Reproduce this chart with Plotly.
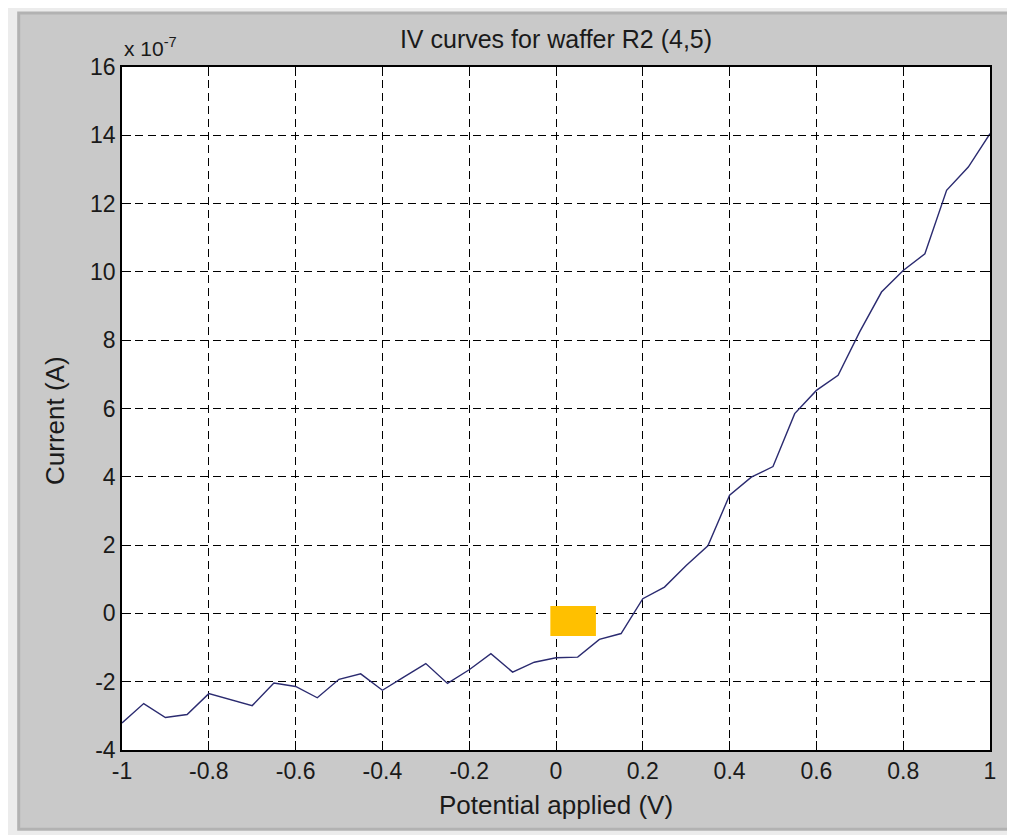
import plotly.graph_objects as go

# --- Data (current in units of 1e-7 A) ---
potential = [-1.00, -0.95, -0.90, -0.85, -0.80, -0.75, -0.70, -0.65, -0.60, -0.55,
             -0.50, -0.45, -0.40, -0.35, -0.30, -0.25, -0.20, -0.15, -0.10, -0.05,
             0.00, 0.05, 0.10, 0.15, 0.20, 0.25, 0.30, 0.35, 0.40, 0.45,
             0.50, 0.55, 0.60, 0.65, 0.70, 0.75, 0.80, 0.85, 0.90, 0.95, 1.00]
current = [-3.21, -2.64, -3.05, -2.96, -2.35, -2.52, -2.70, -2.04, -2.14, -2.47,
           -1.93, -1.77, -2.25, -1.86, -1.47, -2.05, -1.65, -1.18, -1.72, -1.43,
           -1.30, -1.28, -0.76, -0.59, 0.43, 0.77, 1.40, 1.98, 3.46, 3.99,
           4.30, 5.85, 6.53, 6.97, 8.25, 9.41, 10.04, 10.53, 12.39, 13.07, 14.05]

x_ticks = [-1, -0.8, -0.6, -0.4, -0.2, 0, 0.2, 0.4, 0.6, 0.8, 1]
x_labels = ["-1", "-0.8", "-0.6", "-0.4", "-0.2", "0", "0.2", "0.4", "0.6", "0.8", "1"]
y_ticks = [-4, -2, 0, 2, 4, 6, 8, 10, 12, 14, 16]
y_labels = ["-4", "-2", "0", "2", "4", "6", "8", "10", "12", "14", "16"]

font_family = "Liberation Sans, Arial, sans-serif"
text_color = "#1a1a1a"

fig = go.Figure()

# --- IV curve ---
fig.add_trace(go.Scatter(
    x=potential,
    y=current,
    mode="lines",
    line=dict(color="#2b2b70", width=1.4),
    showlegend=False,
))

# --- Window-like gray panel behind the axes ---
fig.add_shape(type="rect", xref="paper", yref="paper",
              x0=-0.119, x1=1.023, y0=-0.116, y1=1.079,
              fillcolor="#c9c9c9", line=dict(color="#b2b2b2", width=3),
              layer="below")
# white axes area on top of the panel
fig.add_shape(type="rect", xref="paper", yref="paper",
              x0=0, x1=1, y0=0, y1=1,
              fillcolor="white", line=dict(width=0), layer="below")

# --- Orange box over the plot ---
fig.add_shape(type="rect", xref="x", yref="y",
              x0=-0.013, x1=0.092, y0=-0.66, y1=0.22,
              fillcolor="#FFC000", line=dict(width=0), layer="above")

# --- Exponent label ---
fig.add_annotation(
    text="x 10<sup>-7</sup>", xref="paper", yref="paper",
    x=0.0, y=1.0, xanchor="left", yanchor="bottom", yshift=5,
    showarrow=False, font=dict(family=font_family, size=21, color=text_color),
)

# --- Y axis title (placed slightly below centre, as in the original) ---
fig.add_annotation(
    text="Current (A)", xref="paper", yref="paper",
    x=-0.077, y=0.482, xanchor="center", yanchor="middle", textangle=-90,
    showarrow=False, font=dict(family=font_family, size=26, color=text_color),
)

fig.update_layout(
    title=dict(text="IV curves for waffer R2 (4,5)", xref="paper", x=0.5, xanchor="center",
               y=0.962, yanchor="middle",
               font=dict(family=font_family, size=25, color=text_color)),
    width=1007,
    height=827,
    margin=dict(l=114, r=25, t=59, b=85),
    paper_bgcolor="#ececec",
    plot_bgcolor="white",
    font=dict(family=font_family, size=22, color=text_color),
)

axis_style = dict(
    showline=True, linecolor="black", linewidth=1.5, mirror="allticks",
    ticks="inside", ticklen=9, tickcolor="black",
    showgrid=True, gridcolor="black", gridwidth=1, griddash="8px,5px",
    zeroline=False, tickfont=dict(family=font_family, size=23, color=text_color),
)

fig.update_xaxes(range=[-1, 1], tickvals=x_ticks, ticktext=x_labels,
                 title=dict(text="Potential applied (V)", standoff=12,
                            font=dict(family=font_family, size=26, color=text_color)),
                 **axis_style)
fig.update_yaxes(range=[-4, 16], tickvals=y_ticks, ticktext=y_labels, **axis_style)

fig.write_html("out.html")
